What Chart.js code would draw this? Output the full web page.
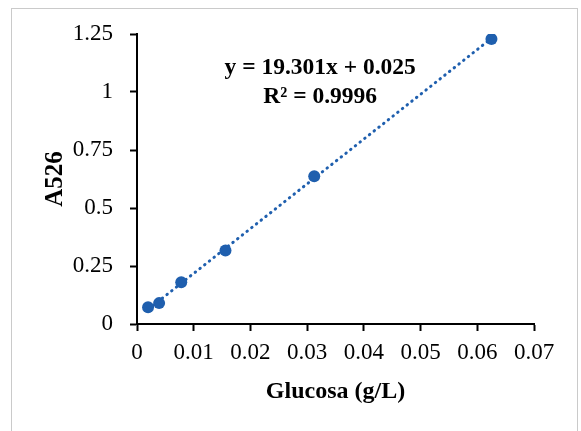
<!DOCTYPE html>
<html>
<head>
<meta charset="utf-8">
<script src="https://cdn.jsdelivr.net/npm/chart.js@4/dist/chart.umd.min.js"></script>
<style>
  html, body { margin: 0; padding: 0; background: #ffffff; }
  #wrap { position: relative; width: 581px; height: 431px; overflow: hidden; }
  #frame { position: absolute; left: 11px; top: 8px; width: 567px; height: 460px; border: 1.5px solid #cacaca; box-sizing: border-box; }
  canvas { position: absolute; left: 0; top: 0; }
</style>
</head>
<body>
<div id="wrap">
  <div id="frame"></div>
  <canvas id="c" width="581" height="431"></canvas>
</div>
<script>
// ---- data ----
const glucose = [0.00195, 0.0039, 0.0078, 0.0156, 0.03125, 0.0625];
const absorbance = [0.072, 0.090, 0.180, 0.317, 0.637, 1.228];
const slope = 19.301;
const intercept = 0.025;
const rSquared = 0.9996;
const xTickValues = [0, 0.01, 0.02, 0.03, 0.04, 0.05, 0.06, 0.07];
const xTickLabels = ['0', '0.01', '0.02', '0.03', '0.04', '0.05', '0.06', '0.07'];
const yTickValues = [0, 0.25, 0.5, 0.75, 1, 1.25];
const yTickLabels = ['0', '0.25', '0.5', '0.75', '1', '1.25'];
const xTitle = 'Glucosa (g/L)';
const yTitle = 'A526';
const eqAnchor = { x: 0.0323, y1: 1.103, y2: 0.978 };

const blue = '#1f5fae';
const serif = "'Liberation Serif', 'Times New Roman', serif";

const points = glucose.map((x, i) => ({ x: x, y: absorbance[i] }));
const xFirst = glucose[0], xLast = glucose[glucose.length - 1];
const trend = [
  { x: xFirst, y: slope * xFirst + intercept },
  { x: xLast, y: slope * xLast + intercept }
];

const equationPlugin = {
  id: 'equation',
  afterDatasetsDraw(chart) {
    const { ctx, scales } = chart;
    const xs = scales.x, ys = scales.y;
    ctx.save();
    ctx.fillStyle = '#000000';
    ctx.font = 'bold 23.5px ' + serif;
    ctx.textAlign = 'center';
    ctx.textBaseline = 'middle';
    const cx = xs.getPixelForValue(eqAnchor.x);
    ctx.fillText('y = ' + slope.toFixed(3) + 'x + ' + intercept.toFixed(3), cx, ys.getPixelForValue(eqAnchor.y1));
    ctx.fillText('R\u00B2 = ' + rSquared.toFixed(4), cx, ys.getPixelForValue(eqAnchor.y2));
    ctx.restore();
  }
};

new Chart(document.getElementById('c'), {
  type: 'scatter',
  data: {
    datasets: [
      {
        label: 'data',
        data: points,
        backgroundColor: blue,
        borderWidth: 0,
        pointRadius: 6,
        pointHoverRadius: 6,
        order: 1
      },
      {
        type: 'line',
        label: 'trend',
        data: trend,
        borderColor: blue,
        borderWidth: 3,
        borderDash: [0.5, 5.5],
        borderCapStyle: 'round',
        pointRadius: 0,
        fill: false,
        order: 2
      }
    ]
  },
  options: {
    responsive: false,
    animation: false,
    devicePixelRatio: 1,
    layout: { padding: { left: 0, top: 34, right: 47, bottom: 0 } },
    plugins: {
      legend: { display: false },
      tooltip: { enabled: false },
      title: { display: false }
    },
    scales: {
      x: {
        type: 'linear',
        min: 0,
        max: 0.07,
        afterFit(scale) { scale.height = 107; },
        afterBuildTicks(scale) { scale.ticks = xTickValues.map(v => ({ value: v })); },
        grid: { drawOnChartArea: false, drawTicks: true, tickLength: 7, tickColor: '#000000', tickWidth: 2 },
        border: { display: true, color: '#000000', width: 2 },
        ticks: {
          autoSkip: false,
          maxRotation: 0,
          padding: 8,
          color: '#000000',
          font: { family: serif, size: 23 },
          callback: (v, i) => xTickLabels[i]
        },
        title: {
          display: true,
          text: xTitle,
          color: '#000000',
          font: { family: serif, size: 24, weight: 'bold' },
          padding: { top: 0, bottom: 25 }
        }
      },
      y: {
        type: 'linear',
        min: 0,
        max: 1.25,
        afterFit(scale) { scale.width = 137; },
        afterBuildTicks(scale) { scale.ticks = yTickValues.map(v => ({ value: v })); },
        grid: { drawOnChartArea: false, drawTicks: true, tickLength: 7, tickColor: '#000000', tickWidth: 2 },
        border: { display: true, color: '#000000', width: 2 },
        ticks: {
          autoSkip: false,
          padding: 17,
          color: '#000000',
          font: { family: serif, size: 23 },
          callback: (v, i) => yTickLabels[i]
        },
        title: {
          display: true,
          text: yTitle,
          color: '#000000',
          font: { family: serif, size: 25, weight: 'bold' },
          padding: { top: 41, bottom: 0 }
        }
      }
    }
  },
  plugins: [equationPlugin]
});
</script>
</body>
</html>
